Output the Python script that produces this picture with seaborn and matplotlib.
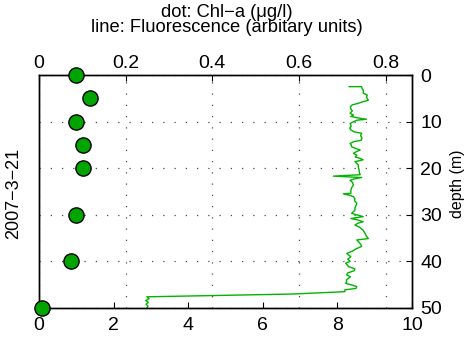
import matplotlib
matplotlib.use("Agg")
import matplotlib.pyplot as plt
import seaborn as sns
from matplotlib.ticker import FuncFormatter

sns.set_theme(style="white")
plt.rcParams['font.family'] = ['Liberation Sans', 'DejaVu Sans']
plt.rcParams['text.color'] = 'black'
plt.rcParams['xtick.color'] = 'black'
plt.rcParams['ytick.color'] = 'black'
plt.rcParams['axes.labelcolor'] = 'black'

# Bottle samples: chlorophyll-a (ug/l) at discrete depths
chl_depth = [0, 5, 10, 15, 20, 30, 40, 50]
chl_value = [0.085, 0.118, 0.085, 0.101, 0.101, 0.085, 0.075, 0.006]

# CTD fluorescence profile (arbitrary units) against depth (m)
fluor_depth = [2.5, 2.5, 2.9, 3.4, 3.9, 4.3, 4.8, 5.4, 5.8, 6.1, 6.4, 6.8, 7.3, 7.7,
               8.2, 8.6, 8.9, 9.3, 9.5, 9.7, 10.0, 10.4, 10.9, 11.4, 11.8, 12.2,
               12.5, 13.0, 13.5, 14.0, 14.3, 14.7, 15.0, 15.4, 15.8, 16.1, 16.5,
               16.8, 17.2, 17.6, 17.9, 18.2, 18.6, 19.0, 19.3, 19.7, 20.3, 20.9,
               21.4, 21.7, 22.0, 22.3, 22.6, 23.0, 23.6, 24.2, 24.8, 25.4, 25.5,
               25.8, 26.1, 26.6, 27.0, 27.5, 28.0, 28.5, 29.0, 29.4, 29.7, 30.2,
               30.4, 30.8, 31.1, 31.5, 31.8, 32.2, 32.7, 33.3, 34.0, 34.6, 35.1,
               35.4, 35.9, 36.4, 36.8, 37.3, 37.8, 38.3, 38.6, 39.0, 39.5, 40.0,
               40.4, 40.8, 41.1, 41.6, 42.0, 42.5, 42.9, 43.3, 43.6, 44.0, 44.4,
               44.7, 45.1, 45.4, 45.8, 46.1, 46.5, 47.0, 47.6, 48.0, 48.4, 48.8,
               49.2, 49.6, 50.0]
fluor_value = [8.31, 8.65, 8.66, 8.70, 8.69, 8.80, 8.78, 8.83, 8.66, 8.55, 8.40, 8.35,
               8.36, 8.40, 8.34, 8.43, 8.36, 8.61, 8.78, 8.52, 8.44, 8.34, 8.37, 8.33,
               8.36, 8.45, 8.65, 8.62, 8.66, 8.64, 8.44, 8.34, 8.37, 8.38, 8.50, 8.61,
               8.50, 8.43, 8.52, 8.48, 8.61, 8.69, 8.47, 8.52, 8.56, 8.56, 8.58, 8.59,
               8.61, 7.89, 8.65, 8.45, 8.34, 8.40, 8.43, 8.38, 8.36, 8.36, 8.16, 8.32,
               8.43, 8.47, 8.46, 8.52, 8.50, 8.47, 8.47, 8.42, 8.38, 8.61, 8.69, 8.36,
               8.55, 8.69, 8.55, 8.47, 8.60, 8.69, 8.74, 8.78, 8.83, 8.52, 8.58, 8.63,
               8.65, 8.50, 8.40, 8.25, 8.30, 8.36, 8.28, 8.34, 8.22, 8.27, 8.29, 8.47,
               8.45, 8.27, 8.25, 8.35, 8.30, 8.24, 8.25, 8.22, 8.40, 8.52, 8.50, 8.20,
               8.20, 6.80, 2.89, 2.95, 2.86, 2.93, 2.87, 2.92, 2.89]

fluor_ticks = [0, 2, 4, 6, 8, 10]
chl_ticks = [0, 0.2, 0.4, 0.6, 0.8]
depth_ticks = [0, 10, 20, 30, 40, 50]

line_green = "#00b400"
dot_green = "#00a500"
grid_style = dict(linestyle=(0, (1, 8)), color="0.3", linewidth=0.9)
tick_size = 14

fig = plt.figure(figsize=(4.73, 3.49), dpi=100)
ax1 = fig.add_axes([39 / 473, 41 / 349, 373 / 473, 233 / 349])
ax1.patch.set_facecolor("white")

# Fluorescence profile on the bottom x axis
sns.lineplot(x=fluor_value, y=fluor_depth, sort=False, estimator=None,
             color=line_green, linewidth=1.0, ax=ax1)
ax1.set_xlim(0, 10)
ax1.set_ylim(50, 0)
ax1.set_xticks(fluor_ticks)
ax1.set_yticks(depth_ticks)
ax1.xaxis.set_major_formatter(FuncFormatter(lambda v, p: f"{v:g}"))
ax1.yaxis.tick_right()
ax1.tick_params(axis="x", direction="in", length=4, width=0.8,
                bottom=True, top=True, labelbottom=True, labeltop=False,
                labelsize=tick_size, pad=6.5)
ax1.tick_params(axis="y", direction="in", length=4, width=0.8,
                left=False, right=True, labelleft=False, labelright=True,
                labelsize=tick_size, pad=6)
ax1.set_xlabel("")
ax1.set_ylabel("")
ax1.grid(True, axis="y", **grid_style)

# Chl-a samples on the top x axis
ax2 = ax1.twiny()
sns.scatterplot(x=chl_value, y=chl_depth, ax=ax2, s=120, color=dot_green,
                edgecolor="black", linewidth=1.0, zorder=10, clip_on=False,
                legend=False)
ax2.set_xlim(0, 0.861)
ax2.set_ylim(50, 0)
ax2.set_xticks(chl_ticks)
ax2.xaxis.set_major_formatter(FuncFormatter(lambda v, p: f"{v:g}"))
ax2.tick_params(axis="x", direction="in", length=4, width=0.8,
                top=True, bottom=False, labeltop=True, labelbottom=False,
                labelsize=tick_size, pad=2)
ax2.grid(True, axis="x", **grid_style)
ax2.set_xlabel("")
ax2.set_ylabel("")

for ax in (ax1, ax2):
    for sp in ax.spines.values():
        sp.set_color("black")
        sp.set_linewidth(1.0)

fig.text(14 / 473, 1 - 193 / 349, "2007\u22123\u221221", rotation=90,
         ha="center", va="center", fontsize=13)
fig.text(457 / 473, 1 - 184 / 349, "depth (m)", rotation=90,
         ha="center", va="center", fontsize=11.5)
fig.text(227 / 473, 1 - 32 / 349,
         "dot: Chl\u2212a (\u03bcg/l)\nline: Fluorescence (arbitary units)",
         ha="center", va="baseline", multialignment="center",
         fontsize=13.2, linespacing=0.82)

fig.savefig("out.png", dpi=100)
